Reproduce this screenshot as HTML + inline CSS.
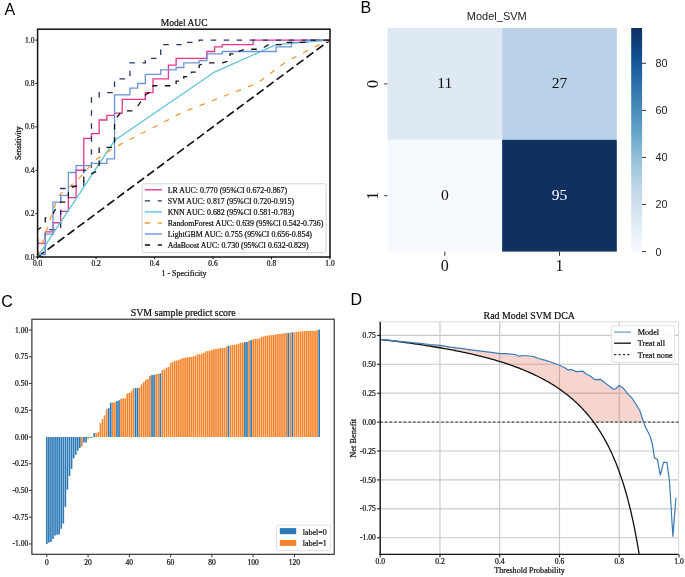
<!DOCTYPE html>
<html><head><meta charset="utf-8"><title>Figure</title>
<style>
html,body{margin:0;padding:0;background:#fff;}
body{width:685px;height:577px;overflow:hidden;font-family:"Liberation Sans", sans-serif;}
svg{display:block;}
text{filter:grayscale(1);}
</style></head>
<body>
<svg width="685" height="577" viewBox="0 0 685 577">
<rect x="0" y="0" width="685" height="577" fill="#fff"/>
<text x="4.6" y="14.7" font-family='"Liberation Sans", sans-serif' font-size="16" text-anchor="start" fill="#000" >A</text>
<text x="184.2" y="26" font-family='"Liberation Serif", serif' font-size="9.5" text-anchor="middle" fill="#111" stroke="#111" stroke-width="0.22" >Model AUC</text>
<clipPath id="clipA"><rect x="37.6" y="29.2" width="292.4" height="227.8"/></clipPath>
<g clip-path="url(#clipA)">
<line x1="37.6" y1="257" x2="330" y2="40.1" stroke="#111" stroke-width="1.65" stroke-dasharray="8.6 3.8"/>
<polyline points="37.6,257 37.6,243.3 45.29,243.3 45.29,231.89 52.99,231.89 52.99,222.75 60.68,222.75 60.68,211.34 68.38,211.34 68.38,197.64 76.07,197.64 76.07,170.24 83.77,170.24 83.77,138.28 91.46,138.28 91.46,133.71 99.16,133.71 99.16,120.01 106.85,120.01 106.85,115.44 114.55,115.44 114.55,113.16 122.24,113.16 122.24,99.46 145.33,99.46 145.33,92.61 153.02,92.61 153.02,78.91 168.41,78.91 168.41,65.21 176.11,65.21 176.11,58.37 206.88,58.37 206.88,51.52 214.58,51.52 214.58,46.95 222.27,46.95 222.27,44.67 253.05,44.67 253.05,40.1 330,40.1" fill="none" stroke="#e8348f" stroke-width="1.3" />
<polyline points="37.6,257 45.29,257 45.29,229.6 60.68,229.6 60.68,188.51 68.38,188.51 68.38,186.22 83.77,186.22 83.77,170.24 91.46,170.24 91.46,97.18 99.16,97.18 99.16,92.61 114.55,92.61 114.55,78.91 129.94,78.91 129.94,62.93 145.33,62.93 145.33,58.37 160.72,58.37 160.72,44.67 183.8,44.67 183.8,42.38 199.19,42.38 199.19,40.1 330,40.1" fill="none" stroke="#27346a" stroke-width="1.3" stroke-dasharray="5.5 7.5"/>
<polyline points="37.6,257 114.55,140.56 214.58,72.06 276.14,44.67 330,40.1" fill="none" stroke="#5fc5d6" stroke-width="1.3" />
<polyline points="37.6,257 58.07,196.27 78.54,178.92 96.08,159.39 115.38,147.03 183.8,111.68 256.9,83.48 286.14,61.79 315.38,46.61 330,40.1" fill="none" stroke="#f59a35" stroke-width="1.3" stroke-dasharray="5.5 7.5"/>
<polyline points="37.6,257 37.6,254.72 45.29,254.72 45.29,234.17 52.99,234.17 52.99,202.2 60.68,202.2 60.68,195.35 68.38,195.35 68.38,172.52 76.07,172.52 76.07,165.67 91.46,165.67 91.46,163.39 106.85,163.39 106.85,158.82 114.55,158.82 114.55,94.9 129.94,94.9 129.94,88.05 137.63,88.05 137.63,83.48 145.33,83.48 145.33,74.35 160.72,74.35 160.72,69.78 176.11,69.78 176.11,67.5 183.8,67.5 183.8,62.93 199.19,62.93 199.19,60.65 206.88,60.65 206.88,53.8 222.27,53.8 222.27,51.52 276.14,51.52 276.14,46.95 291.53,46.95 291.53,42.38 306.92,42.38 306.92,40.1 330,40.1" fill="none" stroke="#6d93d9" stroke-width="1.3" />
<polyline points="37.6,257 37.6,229.6 45.29,225.04 45.29,218.19 52.99,213.62 56.84,206.77 60.68,202.2 68.38,202.2 68.38,188.51 76.07,186.22 83.77,181.66 83.77,177.09 99.16,170.24 99.16,147.41 114.55,147.41 114.55,120.01 122.24,110.88 133.78,110.88 137.63,106.31 145.33,94.9 153.02,90.33 153.02,85.76 176.11,85.76 176.11,81.2 183.8,81.2 183.8,76.63 191.49,76.63 191.49,72.06 199.19,72.06 199.19,65.21 206.88,62.93 222.27,62.93 229.97,60.65 229.97,53.8 237.66,53.8 237.66,51.52 245.36,49.23 260.75,49.23 268.44,44.67 283.83,44.67 283.83,42.38 306.92,42.38 306.92,40.1 330,40.1" fill="none" stroke="#111111" stroke-width="1.3" stroke-dasharray="5.5 7.5"/>
</g>
<rect x="142.2" y="183.8" width="184" height="68.8" fill="#fff" fill-opacity="0.85" stroke="#d6d6d6" stroke-width="1" rx="2"/>
<line x1="144.8" y1="189.8" x2="161.9" y2="189.8" stroke="#e8348f" stroke-width="1.4" />
<text x="167.7" y="193" font-family='"Liberation Serif", serif' font-size="7.87" text-anchor="start" fill="#111" stroke="#111" stroke-width="0.22" >LR AUC: 0.770 (95%CI 0.672-0.867)</text>
<line x1="144.8" y1="200.85" x2="161.9" y2="200.85" stroke="#27346a" stroke-width="1.4" stroke-dasharray="5.3 7.7"/>
<text x="167.7" y="204.05" font-family='"Liberation Serif", serif' font-size="7.87" text-anchor="start" fill="#111" stroke="#111" stroke-width="0.22" >SVM AUC: 0.817 (95%CI 0.720-0.915)</text>
<line x1="144.8" y1="211.9" x2="161.9" y2="211.9" stroke="#5fc5d6" stroke-width="1.4" />
<text x="167.7" y="215.1" font-family='"Liberation Serif", serif' font-size="7.87" text-anchor="start" fill="#111" stroke="#111" stroke-width="0.22" >KNN AUC: 0.682 (95%CI 0.581-0.783)</text>
<line x1="144.8" y1="222.95" x2="161.9" y2="222.95" stroke="#f59a35" stroke-width="1.4" stroke-dasharray="5.3 7.7"/>
<text x="167.7" y="226.15" font-family='"Liberation Serif", serif' font-size="7.87" text-anchor="start" fill="#111" stroke="#111" stroke-width="0.22" >RandomForest AUC: 0.639 (95%CI 0.542-0.736)</text>
<line x1="144.8" y1="234" x2="161.9" y2="234" stroke="#6d93d9" stroke-width="1.4" />
<text x="167.7" y="237.2" font-family='"Liberation Serif", serif' font-size="7.87" text-anchor="start" fill="#111" stroke="#111" stroke-width="0.22" >LightGBM AUC: 0.755 (95%CI 0.656-0.854)</text>
<line x1="144.8" y1="245.05" x2="161.9" y2="245.05" stroke="#111111" stroke-width="1.4" stroke-dasharray="5.3 7.7"/>
<text x="167.7" y="248.25" font-family='"Liberation Serif", serif' font-size="7.87" text-anchor="start" fill="#111" stroke="#111" stroke-width="0.22" >AdaBoost AUC: 0.730 (95%CI 0.632-0.829)</text>
<rect x="37.6" y="29.2" width="292.4" height="227.8" fill="none" stroke="#111" stroke-width="1.5"/>
<line x1="37.6" y1="257" x2="37.6" y2="259.2" stroke="#111" stroke-width="1" />
<line x1="35.4" y1="257" x2="37.6" y2="257" stroke="#111" stroke-width="1" />
<text x="37.6" y="266.2" font-family='"Liberation Serif", serif' font-size="7.5" text-anchor="middle" fill="#111" stroke="#111" stroke-width="0.22" >0.0</text>
<text x="34.4" y="259.6" font-family='"Liberation Serif", serif' font-size="7.5" text-anchor="end" fill="#111" stroke="#111" stroke-width="0.22" >0.0</text>
<line x1="96.08" y1="257" x2="96.08" y2="259.2" stroke="#111" stroke-width="1" />
<line x1="35.4" y1="213.62" x2="37.6" y2="213.62" stroke="#111" stroke-width="1" />
<text x="96.08" y="266.2" font-family='"Liberation Serif", serif' font-size="7.5" text-anchor="middle" fill="#111" stroke="#111" stroke-width="0.22" >0.2</text>
<text x="34.4" y="216.22" font-family='"Liberation Serif", serif' font-size="7.5" text-anchor="end" fill="#111" stroke="#111" stroke-width="0.22" >0.2</text>
<line x1="154.56" y1="257" x2="154.56" y2="259.2" stroke="#111" stroke-width="1" />
<line x1="35.4" y1="170.24" x2="37.6" y2="170.24" stroke="#111" stroke-width="1" />
<text x="154.56" y="266.2" font-family='"Liberation Serif", serif' font-size="7.5" text-anchor="middle" fill="#111" stroke="#111" stroke-width="0.22" >0.4</text>
<text x="34.4" y="172.84" font-family='"Liberation Serif", serif' font-size="7.5" text-anchor="end" fill="#111" stroke="#111" stroke-width="0.22" >0.4</text>
<line x1="213.04" y1="257" x2="213.04" y2="259.2" stroke="#111" stroke-width="1" />
<line x1="35.4" y1="126.86" x2="37.6" y2="126.86" stroke="#111" stroke-width="1" />
<text x="213.04" y="266.2" font-family='"Liberation Serif", serif' font-size="7.5" text-anchor="middle" fill="#111" stroke="#111" stroke-width="0.22" >0.6</text>
<text x="34.4" y="129.46" font-family='"Liberation Serif", serif' font-size="7.5" text-anchor="end" fill="#111" stroke="#111" stroke-width="0.22" >0.6</text>
<line x1="271.52" y1="257" x2="271.52" y2="259.2" stroke="#111" stroke-width="1" />
<line x1="35.4" y1="83.48" x2="37.6" y2="83.48" stroke="#111" stroke-width="1" />
<text x="271.52" y="266.2" font-family='"Liberation Serif", serif' font-size="7.5" text-anchor="middle" fill="#111" stroke="#111" stroke-width="0.22" >0.8</text>
<text x="34.4" y="86.08" font-family='"Liberation Serif", serif' font-size="7.5" text-anchor="end" fill="#111" stroke="#111" stroke-width="0.22" >0.8</text>
<line x1="330" y1="257" x2="330" y2="259.2" stroke="#111" stroke-width="1" />
<line x1="35.4" y1="40.1" x2="37.6" y2="40.1" stroke="#111" stroke-width="1" />
<text x="330" y="266.2" font-family='"Liberation Serif", serif' font-size="7.5" text-anchor="middle" fill="#111" stroke="#111" stroke-width="0.22" >1.0</text>
<text x="34.4" y="42.7" font-family='"Liberation Serif", serif' font-size="7.5" text-anchor="end" fill="#111" stroke="#111" stroke-width="0.22" >1.0</text>
<text x="184" y="275.8" font-family='"Liberation Serif", serif' font-size="7.95" text-anchor="middle" fill="#111" stroke="#111" stroke-width="0.22" >1 - Specificity</text>
<text x="0" y="0" font-family='"Liberation Serif", serif' font-size="7.9" text-anchor="middle" fill="#111" stroke="#111" stroke-width="0.22" transform="translate(20.7,143.2) rotate(-90)">Sensitivity</text>
<text x="360.6" y="13.1" font-family='"Liberation Sans", sans-serif' font-size="16" text-anchor="start" fill="#000" >B</text>
<text x="496.8" y="20.2" font-family='"Liberation Sans", sans-serif' font-size="11" text-anchor="middle" fill="#222" >Model_SVM</text>
<rect x="387.5" y="28" width="114.65" height="111.8" fill="#dfe9f4" />
<rect x="502.15" y="28" width="114.65" height="111.8" fill="#b9d2e7" />
<rect x="387.5" y="139.8" width="114.65" height="111.8" fill="#f6faff" />
<rect x="502.15" y="139.8" width="114.65" height="111.8" fill="#10305f" />
<text x="444.82" y="88.1" font-family='"Liberation Serif", serif' font-size="15.6" text-anchor="middle" fill="#111" >11</text>
<text x="559.47" y="88.1" font-family='"Liberation Serif", serif' font-size="15.6" text-anchor="middle" fill="#111" >27</text>
<text x="444.82" y="199.9" font-family='"Liberation Serif", serif' font-size="15.6" text-anchor="middle" fill="#111" >0</text>
<text x="559.47" y="199.9" font-family='"Liberation Serif", serif' font-size="15.6" text-anchor="middle" fill="#fff" >95</text>
<line x1="384.2" y1="83.9" x2="387.5" y2="83.9" stroke="#333" stroke-width="1" />
<text x="0" y="0" font-family='"Liberation Serif", serif' font-size="16" text-anchor="middle" fill="#111" transform="translate(377.6,83.9) rotate(-90)">0</text>
<line x1="384.2" y1="195.7" x2="387.5" y2="195.7" stroke="#333" stroke-width="1" />
<text x="0" y="0" font-family='"Liberation Serif", serif' font-size="16" text-anchor="middle" fill="#111" transform="translate(377.6,195.7) rotate(-90)">1</text>
<line x1="444.82" y1="251.6" x2="444.82" y2="255.8" stroke="#333" stroke-width="1" />
<text x="444.82" y="270.7" font-family='"Liberation Serif", serif' font-size="16" text-anchor="middle" fill="#111" >0</text>
<line x1="559.47" y1="251.6" x2="559.47" y2="255.8" stroke="#333" stroke-width="1" />
<text x="559.47" y="270.7" font-family='"Liberation Serif", serif' font-size="16" text-anchor="middle" fill="#111" >1</text>
<linearGradient id="blues" x1="0" y1="1" x2="0" y2="0"><stop offset="0" stop-color="#f7fbff"/><stop offset="0.125" stop-color="#dfebf5"/><stop offset="0.25" stop-color="#c8daec"/><stop offset="0.375" stop-color="#a3c9dc"/><stop offset="0.5" stop-color="#72acce"/><stop offset="0.625" stop-color="#4b8fbc"/><stop offset="0.75" stop-color="#2a6fa9"/><stop offset="0.875" stop-color="#104f90"/><stop offset="1" stop-color="#0d2f62"/></linearGradient>
<rect x="631.2" y="28" width="10.9" height="223.6" fill="url(#blues)" />
<line x1="642.1" y1="251.6" x2="646" y2="251.6" stroke="#333" stroke-width="1" />
<text x="655.6" y="255.5" font-family='"Liberation Sans", sans-serif' font-size="10.8" text-anchor="start" fill="#222" >0</text>
<line x1="642.1" y1="204.53" x2="646" y2="204.53" stroke="#333" stroke-width="1" />
<text x="655.6" y="208.43" font-family='"Liberation Sans", sans-serif' font-size="10.8" text-anchor="start" fill="#222" >20</text>
<line x1="642.1" y1="157.45" x2="646" y2="157.45" stroke="#333" stroke-width="1" />
<text x="655.6" y="161.35" font-family='"Liberation Sans", sans-serif' font-size="10.8" text-anchor="start" fill="#222" >40</text>
<line x1="642.1" y1="110.38" x2="646" y2="110.38" stroke="#333" stroke-width="1" />
<text x="655.6" y="114.28" font-family='"Liberation Sans", sans-serif' font-size="10.8" text-anchor="start" fill="#222" >60</text>
<line x1="642.1" y1="63.31" x2="646" y2="63.31" stroke="#333" stroke-width="1" />
<text x="655.6" y="67.21" font-family='"Liberation Sans", sans-serif' font-size="10.8" text-anchor="start" fill="#222" >80</text>
<text x="1.2" y="306.9" font-family='"Liberation Sans", sans-serif' font-size="16" text-anchor="start" fill="#000" >C</text>
<text x="183.2" y="316.1" font-family='"Liberation Serif", serif' font-size="9.9" text-anchor="middle" fill="#111" stroke="#111" stroke-width="0.22" >SVM sample predict score</text>
<rect x="45.97" y="437" width="1.65" height="107.1" fill="#2b79b6" />
<rect x="48.04" y="437" width="1.65" height="105.7" fill="#2b79b6" />
<rect x="50.1" y="437" width="1.65" height="104.9" fill="#2b79b6" />
<rect x="52.17" y="437" width="1.65" height="102" fill="#2b79b6" />
<rect x="54.23" y="437" width="1.65" height="98.5" fill="#2b79b6" />
<rect x="56.29" y="437" width="1.65" height="97.8" fill="#2b79b6" />
<rect x="58.36" y="437" width="1.65" height="97.4" fill="#2b79b6" />
<rect x="60.42" y="437" width="1.65" height="91.8" fill="#2b79b6" />
<rect x="62.48" y="437" width="1.65" height="86.6" fill="#2b79b6" />
<rect x="64.55" y="437" width="1.65" height="69.9" fill="#2b79b6" />
<rect x="66.61" y="437" width="1.65" height="52.6" fill="#2b79b6" />
<rect x="68.67" y="437" width="1.65" height="39.1" fill="#2b79b6" />
<rect x="70.74" y="437" width="1.65" height="31.8" fill="#2b79b6" />
<rect x="72.8" y="437" width="1.65" height="21.4" fill="#2b79b6" />
<rect x="74.86" y="437" width="1.65" height="17.9" fill="#2b79b6" />
<rect x="76.93" y="437" width="1.65" height="13.7" fill="#2b79b6" />
<rect x="78.99" y="437" width="1.65" height="11" fill="#2b79b6" />
<rect x="81.05" y="437" width="1.65" height="9.5" fill="#f5842b" />
<rect x="83.12" y="437" width="1.65" height="5.5" fill="#2b79b6" />
<rect x="85.18" y="437" width="1.65" height="5.5" fill="#2b79b6" />
<rect x="87.24" y="437" width="1.65" height="1.8" fill="#f5842b" />
<rect x="89.31" y="437" width="1.65" height="0.7" fill="#2b79b6" />
<rect x="91.37" y="437" width="1.65" height="0.7" fill="#2b79b6" />
<rect x="93.44" y="433.1" width="1.65" height="3.9" fill="#2b79b6" />
<rect x="95.5" y="433.1" width="1.65" height="3.9" fill="#f5842b" />
<rect x="97.56" y="431.9" width="1.65" height="5.1" fill="#f5842b" />
<rect x="99.63" y="423.1" width="1.65" height="13.9" fill="#f5842b" />
<rect x="101.69" y="419.1" width="1.65" height="17.9" fill="#f5842b" />
<rect x="103.75" y="415.4" width="1.65" height="21.6" fill="#f5842b" />
<rect x="105.82" y="409.4" width="1.65" height="27.6" fill="#f5842b" />
<rect x="107.88" y="408.1" width="1.65" height="28.9" fill="#2b79b6" />
<rect x="109.94" y="402.8" width="1.65" height="34.2" fill="#2b79b6" />
<rect x="112.01" y="402.4" width="1.65" height="34.6" fill="#f5842b" />
<rect x="114.07" y="402.3" width="1.65" height="34.7" fill="#f5842b" />
<rect x="116.13" y="401" width="1.65" height="36" fill="#2b79b6" />
<rect x="118.2" y="400.3" width="1.65" height="36.7" fill="#2b79b6" />
<rect x="120.26" y="398.8" width="1.65" height="38.2" fill="#f5842b" />
<rect x="122.32" y="398.4" width="1.65" height="38.6" fill="#f5842b" />
<rect x="124.39" y="398.3" width="1.65" height="38.7" fill="#f5842b" />
<rect x="126.45" y="393.7" width="1.65" height="43.3" fill="#f5842b" />
<rect x="128.51" y="393" width="1.65" height="44" fill="#f5842b" />
<rect x="130.58" y="391.2" width="1.65" height="45.8" fill="#f5842b" />
<rect x="132.64" y="388.4" width="1.65" height="48.6" fill="#f5842b" />
<rect x="134.71" y="388.1" width="1.65" height="48.9" fill="#2b79b6" />
<rect x="136.77" y="388" width="1.65" height="49" fill="#2b79b6" />
<rect x="138.83" y="387.3" width="1.65" height="49.7" fill="#f5842b" />
<rect x="140.9" y="384.3" width="1.65" height="52.7" fill="#f5842b" />
<rect x="142.96" y="382.2" width="1.65" height="54.8" fill="#f5842b" />
<rect x="145.02" y="379.8" width="1.65" height="57.2" fill="#f5842b" />
<rect x="147.09" y="379.1" width="1.65" height="57.9" fill="#f5842b" />
<rect x="149.15" y="376" width="1.65" height="61" fill="#f5842b" />
<rect x="151.21" y="374.9" width="1.65" height="62.1" fill="#2b79b6" />
<rect x="153.28" y="374.9" width="1.65" height="62.1" fill="#2b79b6" />
<rect x="155.34" y="374.1" width="1.65" height="62.9" fill="#f5842b" />
<rect x="157.4" y="374" width="1.65" height="63" fill="#f5842b" />
<rect x="159.47" y="373.3" width="1.65" height="63.7" fill="#2b79b6" />
<rect x="161.53" y="370.1" width="1.65" height="66.9" fill="#f5842b" />
<rect x="163.59" y="369.4" width="1.65" height="67.6" fill="#f5842b" />
<rect x="165.66" y="367.7" width="1.65" height="69.3" fill="#f5842b" />
<rect x="167.72" y="367" width="1.65" height="70" fill="#f5842b" />
<rect x="169.78" y="362.9" width="1.65" height="74.1" fill="#f5842b" />
<rect x="171.85" y="362.2" width="1.65" height="74.8" fill="#f5842b" />
<rect x="173.91" y="360.8" width="1.65" height="76.2" fill="#f5842b" />
<rect x="175.98" y="360.5" width="1.65" height="76.5" fill="#f5842b" />
<rect x="178.04" y="360.1" width="1.65" height="76.9" fill="#f5842b" />
<rect x="180.1" y="358.9" width="1.65" height="78.1" fill="#f5842b" />
<rect x="182.17" y="358" width="1.65" height="79" fill="#f5842b" />
<rect x="184.23" y="357.7" width="1.65" height="79.3" fill="#f5842b" />
<rect x="186.29" y="357.3" width="1.65" height="79.7" fill="#f5842b" />
<rect x="188.36" y="357.2" width="1.65" height="79.8" fill="#f5842b" />
<rect x="190.42" y="357" width="1.65" height="80" fill="#f5842b" />
<rect x="192.48" y="356.3" width="1.65" height="80.7" fill="#f5842b" />
<rect x="194.55" y="355.9" width="1.65" height="81.1" fill="#f5842b" />
<rect x="196.61" y="354.3" width="1.65" height="82.7" fill="#f5842b" />
<rect x="198.67" y="354.3" width="1.65" height="82.7" fill="#f5842b" />
<rect x="200.74" y="353.8" width="1.65" height="83.2" fill="#f5842b" />
<rect x="202.8" y="352.9" width="1.65" height="84.1" fill="#f5842b" />
<rect x="204.86" y="351.5" width="1.65" height="85.5" fill="#f5842b" />
<rect x="206.93" y="351.1" width="1.65" height="85.9" fill="#f5842b" />
<rect x="208.99" y="350.5" width="1.65" height="86.5" fill="#f5842b" />
<rect x="211.05" y="350.1" width="1.65" height="86.9" fill="#f5842b" />
<rect x="213.12" y="349.1" width="1.65" height="87.9" fill="#f5842b" />
<rect x="215.18" y="348.8" width="1.65" height="88.2" fill="#f5842b" />
<rect x="217.25" y="348.6" width="1.65" height="88.4" fill="#f5842b" />
<rect x="219.31" y="348.1" width="1.65" height="88.9" fill="#f5842b" />
<rect x="221.37" y="348" width="1.65" height="89" fill="#f5842b" />
<rect x="223.44" y="348" width="1.65" height="89" fill="#f5842b" />
<rect x="225.5" y="346.8" width="1.65" height="90.2" fill="#f5842b" />
<rect x="227.56" y="345.8" width="1.65" height="91.2" fill="#2b79b6" />
<rect x="229.63" y="345.4" width="1.65" height="91.6" fill="#f5842b" />
<rect x="231.69" y="345" width="1.65" height="92" fill="#f5842b" />
<rect x="233.75" y="344.7" width="1.65" height="92.3" fill="#f5842b" />
<rect x="235.82" y="344.3" width="1.65" height="92.7" fill="#f5842b" />
<rect x="237.88" y="343.6" width="1.65" height="93.4" fill="#f5842b" />
<rect x="239.94" y="342.9" width="1.65" height="94.1" fill="#f5842b" />
<rect x="242.01" y="342.5" width="1.65" height="94.5" fill="#f5842b" />
<rect x="244.07" y="342.2" width="1.65" height="94.8" fill="#2b79b6" />
<rect x="246.13" y="341.9" width="1.65" height="95.1" fill="#2b79b6" />
<rect x="248.2" y="340.8" width="1.65" height="96.2" fill="#f5842b" />
<rect x="250.26" y="340.1" width="1.65" height="96.9" fill="#2b79b6" />
<rect x="252.32" y="339.2" width="1.65" height="97.8" fill="#f5842b" />
<rect x="254.39" y="339" width="1.65" height="98" fill="#f5842b" />
<rect x="256.45" y="338.8" width="1.65" height="98.2" fill="#f5842b" />
<rect x="258.52" y="338.6" width="1.65" height="98.4" fill="#f5842b" />
<rect x="260.58" y="336.8" width="1.65" height="100.2" fill="#f5842b" />
<rect x="262.64" y="336.5" width="1.65" height="100.5" fill="#f5842b" />
<rect x="264.71" y="335.8" width="1.65" height="101.2" fill="#f5842b" />
<rect x="266.77" y="335.5" width="1.65" height="101.5" fill="#f5842b" />
<rect x="268.83" y="335.4" width="1.65" height="101.6" fill="#f5842b" />
<rect x="270.9" y="335.1" width="1.65" height="101.9" fill="#f5842b" />
<rect x="272.96" y="334.8" width="1.65" height="102.2" fill="#f5842b" />
<rect x="275.02" y="334.4" width="1.65" height="102.6" fill="#f5842b" />
<rect x="277.09" y="334.1" width="1.65" height="102.9" fill="#f5842b" />
<rect x="279.15" y="334" width="1.65" height="103" fill="#f5842b" />
<rect x="281.21" y="333.7" width="1.65" height="103.3" fill="#f5842b" />
<rect x="283.28" y="333.3" width="1.65" height="103.7" fill="#f5842b" />
<rect x="285.34" y="333.2" width="1.65" height="103.8" fill="#f5842b" />
<rect x="287.4" y="333" width="1.65" height="104" fill="#2b79b6" />
<rect x="289.47" y="332.7" width="1.65" height="104.3" fill="#f5842b" />
<rect x="291.53" y="332.3" width="1.65" height="104.7" fill="#2b79b6" />
<rect x="293.59" y="332.3" width="1.65" height="104.7" fill="#f5842b" />
<rect x="295.66" y="331.9" width="1.65" height="105.1" fill="#f5842b" />
<rect x="297.72" y="331.6" width="1.65" height="105.4" fill="#f5842b" />
<rect x="299.79" y="331.4" width="1.65" height="105.6" fill="#f5842b" />
<rect x="301.85" y="331.2" width="1.65" height="105.8" fill="#f5842b" />
<rect x="303.91" y="331.1" width="1.65" height="105.9" fill="#f5842b" />
<rect x="305.98" y="330.9" width="1.65" height="106.1" fill="#f5842b" />
<rect x="308.04" y="330.9" width="1.65" height="106.1" fill="#f5842b" />
<rect x="310.1" y="330.8" width="1.65" height="106.2" fill="#f5842b" />
<rect x="312.17" y="330.8" width="1.65" height="106.2" fill="#f5842b" />
<rect x="314.23" y="330.7" width="1.65" height="106.3" fill="#f5842b" />
<rect x="316.29" y="330.3" width="1.65" height="106.7" fill="#f5842b" />
<rect x="318.36" y="329.6" width="1.65" height="107.4" fill="#2b79b6" />
<rect x="31.9" y="319.2" width="302.3" height="235.1" fill="none" stroke="#222" stroke-width="1.1"/>
<line x1="28.9" y1="330.05" x2="31.9" y2="330.05" stroke="#222" stroke-width="0.9" />
<text x="28.2" y="332.55" font-family='"Liberation Serif", serif' font-size="7.5" text-anchor="end" fill="#111" stroke="#111" stroke-width="0.22" >1.00</text>
<line x1="28.9" y1="356.79" x2="31.9" y2="356.79" stroke="#222" stroke-width="0.9" />
<text x="28.2" y="359.29" font-family='"Liberation Serif", serif' font-size="7.5" text-anchor="end" fill="#111" stroke="#111" stroke-width="0.22" >0.75</text>
<line x1="28.9" y1="383.52" x2="31.9" y2="383.52" stroke="#222" stroke-width="0.9" />
<text x="28.2" y="386.02" font-family='"Liberation Serif", serif' font-size="7.5" text-anchor="end" fill="#111" stroke="#111" stroke-width="0.22" >0.50</text>
<line x1="28.9" y1="410.26" x2="31.9" y2="410.26" stroke="#222" stroke-width="0.9" />
<text x="28.2" y="412.76" font-family='"Liberation Serif", serif' font-size="7.5" text-anchor="end" fill="#111" stroke="#111" stroke-width="0.22" >0.25</text>
<line x1="28.9" y1="437" x2="31.9" y2="437" stroke="#222" stroke-width="0.9" />
<text x="28.2" y="439.5" font-family='"Liberation Serif", serif' font-size="7.5" text-anchor="end" fill="#111" stroke="#111" stroke-width="0.22" >0.00</text>
<line x1="28.9" y1="463.74" x2="31.9" y2="463.74" stroke="#222" stroke-width="0.9" />
<text x="28.2" y="466.24" font-family='"Liberation Serif", serif' font-size="7.5" text-anchor="end" fill="#111" stroke="#111" stroke-width="0.22" >-0.25</text>
<line x1="28.9" y1="490.48" x2="31.9" y2="490.48" stroke="#222" stroke-width="0.9" />
<text x="28.2" y="492.98" font-family='"Liberation Serif", serif' font-size="7.5" text-anchor="end" fill="#111" stroke="#111" stroke-width="0.22" >-0.50</text>
<line x1="28.9" y1="517.21" x2="31.9" y2="517.21" stroke="#222" stroke-width="0.9" />
<text x="28.2" y="519.71" font-family='"Liberation Serif", serif' font-size="7.5" text-anchor="end" fill="#111" stroke="#111" stroke-width="0.22" >-0.75</text>
<line x1="28.9" y1="543.95" x2="31.9" y2="543.95" stroke="#222" stroke-width="0.9" />
<text x="28.2" y="546.45" font-family='"Liberation Serif", serif' font-size="7.5" text-anchor="end" fill="#111" stroke="#111" stroke-width="0.22" >-1.00</text>
<line x1="46.8" y1="554.3" x2="46.8" y2="557.3" stroke="#222" stroke-width="0.9" />
<text x="46.8" y="564.5" font-family='"Liberation Serif", serif' font-size="7.5" text-anchor="middle" fill="#111" stroke="#111" stroke-width="0.22" >0</text>
<line x1="88.07" y1="554.3" x2="88.07" y2="557.3" stroke="#222" stroke-width="0.9" />
<text x="88.07" y="564.5" font-family='"Liberation Serif", serif' font-size="7.5" text-anchor="middle" fill="#111" stroke="#111" stroke-width="0.22" >20</text>
<line x1="129.34" y1="554.3" x2="129.34" y2="557.3" stroke="#222" stroke-width="0.9" />
<text x="129.34" y="564.5" font-family='"Liberation Serif", serif' font-size="7.5" text-anchor="middle" fill="#111" stroke="#111" stroke-width="0.22" >40</text>
<line x1="170.61" y1="554.3" x2="170.61" y2="557.3" stroke="#222" stroke-width="0.9" />
<text x="170.61" y="564.5" font-family='"Liberation Serif", serif' font-size="7.5" text-anchor="middle" fill="#111" stroke="#111" stroke-width="0.22" >60</text>
<line x1="211.88" y1="554.3" x2="211.88" y2="557.3" stroke="#222" stroke-width="0.9" />
<text x="211.88" y="564.5" font-family='"Liberation Serif", serif' font-size="7.5" text-anchor="middle" fill="#111" stroke="#111" stroke-width="0.22" >80</text>
<line x1="253.15" y1="554.3" x2="253.15" y2="557.3" stroke="#222" stroke-width="0.9" />
<text x="253.15" y="564.5" font-family='"Liberation Serif", serif' font-size="7.5" text-anchor="middle" fill="#111" stroke="#111" stroke-width="0.22" >100</text>
<line x1="294.42" y1="554.3" x2="294.42" y2="557.3" stroke="#222" stroke-width="0.9" />
<text x="294.42" y="564.5" font-family='"Liberation Serif", serif' font-size="7.5" text-anchor="middle" fill="#111" stroke="#111" stroke-width="0.22" >120</text>
<rect x="276.5" y="525.2" width="54.2" height="25.4" fill="#fff" fill-opacity="0.9" stroke="#dcdcdc" stroke-width="0.9" rx="2"/>
<rect x="279.8" y="528.1" width="16.4" height="6.1" fill="#2b79b6" />
<rect x="279.8" y="540" width="16.4" height="5.9" fill="#f5842b" />
<text x="302.8" y="534.7" font-family='"Liberation Serif", serif' font-size="8.0" text-anchor="start" fill="#111" stroke="#111" stroke-width="0.22" >label=0</text>
<text x="302.8" y="545.7" font-family='"Liberation Serif", serif' font-size="8.0" text-anchor="start" fill="#111" stroke="#111" stroke-width="0.22" >label=1</text>
<text x="350.4" y="305.1" font-family='"Liberation Sans", sans-serif' font-size="16" text-anchor="start" fill="#000" >D</text>
<text x="529.3" y="318.9" font-family='"Liberation Serif", serif' font-size="9.9" text-anchor="middle" fill="#111" stroke="#111" stroke-width="0.22" >Rad Model SVM DCA</text>
<line x1="439.96" y1="321.7" x2="439.96" y2="554.4" stroke="#c9c9c9" stroke-width="1.2" />
<line x1="499.72" y1="321.7" x2="499.72" y2="554.4" stroke="#c9c9c9" stroke-width="1.2" />
<line x1="559.48" y1="321.7" x2="559.48" y2="554.4" stroke="#c9c9c9" stroke-width="1.2" />
<line x1="619.24" y1="321.7" x2="619.24" y2="554.4" stroke="#c9c9c9" stroke-width="1.2" />
<line x1="380.2" y1="335.36" x2="678.6" y2="335.36" stroke="#c9c9c9" stroke-width="1.2" />
<line x1="380.2" y1="364.27" x2="678.6" y2="364.27" stroke="#c9c9c9" stroke-width="1.2" />
<line x1="380.2" y1="393.19" x2="678.6" y2="393.19" stroke="#c9c9c9" stroke-width="1.2" />
<line x1="380.2" y1="422.1" x2="678.6" y2="422.1" stroke="#c9c9c9" stroke-width="1.2" />
<line x1="380.2" y1="451.02" x2="678.6" y2="451.02" stroke="#c9c9c9" stroke-width="1.2" />
<line x1="380.2" y1="479.93" x2="678.6" y2="479.93" stroke="#c9c9c9" stroke-width="1.2" />
<line x1="380.2" y1="508.85" x2="678.6" y2="508.85" stroke="#c9c9c9" stroke-width="1.2" />
<line x1="380.2" y1="537.76" x2="678.6" y2="537.76" stroke="#c9c9c9" stroke-width="1.2" />
<line x1="380.2" y1="321.7" x2="678.6" y2="321.7" stroke="#dadada" stroke-width="1.1" />
<line x1="678.6" y1="321.7" x2="678.6" y2="554.4" stroke="#dadada" stroke-width="1.1" />
<path d="M380.2,339.4 L380.7,339.45 L381.2,339.5 L381.7,339.54 L382.2,339.59 L382.7,339.64 L383.2,339.69 L383.7,339.74 L384.2,339.78 L384.7,339.83 L385.2,339.88 L385.7,339.93 L386.2,339.98 L386.7,340.02 L387.2,340.07 L387.7,340.12 L388.2,340.17 L388.7,340.22 L389.2,340.26 L389.7,340.31 L390.2,340.36 L390.7,340.41 L391.2,340.46 L391.7,340.5 L392.2,340.55 L392.7,340.6 L393.2,340.65 L393.7,340.7 L394.2,340.74 L394.7,340.79 L395.2,340.84 L395.7,340.89 L396.2,340.94 L396.7,340.98 L397.2,341.03 L397.7,341.08 L398.2,341.13 L398.7,341.18 L399.2,341.22 L399.7,341.27 L400.2,341.32 L400.7,341.37 L401.2,341.42 L401.7,341.47 L402.2,341.52 L402.7,341.57 L403.2,341.62 L403.7,341.67 L404.2,341.72 L404.7,341.77 L405.2,341.82 L405.7,341.87 L406.2,341.92 L406.7,341.97 L407.2,342.02 L407.7,342.07 L408.2,342.12 L408.7,342.17 L409.2,342.22 L409.7,342.27 L410.2,342.32 L410.7,342.37 L411.2,342.42 L411.7,342.47 L412.2,342.52 L412.7,342.57 L413.2,342.62 L413.7,342.67 L414.2,342.72 L414.7,342.77 L415.2,342.82 L415.7,342.87 L416.2,342.92 L416.7,342.97 L417.2,343.02 L417.7,343.07 L418.2,343.12 L418.7,343.17 L419.2,343.22 L419.7,343.27 L420.2,343.32 L420.7,343.38 L421.2,343.44 L421.7,343.5 L422.2,343.56 L422.7,343.62 L423.2,343.68 L423.7,343.74 L424.2,343.8 L424.7,343.86 L425.2,343.92 L425.7,343.98 L426.2,344.04 L426.7,344.1 L427.2,344.16 L427.7,344.22 L428.2,344.28 L428.7,344.34 L429.2,344.4 L429.7,344.46 L430.2,344.52 L430.7,344.56 L431.2,344.61 L431.7,344.65 L432.2,344.69 L432.7,344.74 L433.2,344.78 L433.7,344.83 L434.2,344.87 L434.7,344.91 L435.2,344.96 L435.7,345 L436.2,345.05 L436.7,345.09 L437.2,345.14 L437.7,345.18 L438.2,345.22 L438.7,345.27 L439.2,345.31 L439.7,345.36 L440.2,345.4 L440.7,345.48 L441.2,345.57 L441.7,345.65 L442.2,345.73 L442.7,345.82 L443.2,345.9 L443.7,345.98 L444.2,346.07 L444.7,346.15 L445.2,346.23 L445.7,346.32 L446.2,346.4 L446.7,346.48 L447.2,346.57 L447.7,346.65 L448.2,346.73 L448.7,346.82 L449.2,346.9 L449.7,346.98 L450.2,347.07 L450.7,347.13 L451.2,347.19 L451.7,347.25 L452.2,347.31 L452.7,347.37 L453.2,347.43 L453.7,347.48 L454.2,347.54 L454.7,347.6 L455.2,347.66 L455.7,347.72 L456.2,347.78 L456.7,347.83 L457.2,347.89 L457.7,347.95 L458.2,348.01 L458.7,348.07 L459.2,348.13 L459.7,348.18 L460.2,348.24 L460.7,348.3 L461.2,348.37 L461.7,348.45 L462.2,348.52 L462.7,348.59 L463.2,348.67 L463.7,348.74 L464.2,348.81 L464.7,348.89 L465.2,348.96 L465.7,349.04 L466.2,349.11 L466.7,349.18 L467.2,349.26 L467.7,349.33 L468.2,349.4 L468.7,349.48 L469.2,349.55 L469.7,349.62 L470.2,349.7 L470.7,349.77 L471.2,349.84 L471.7,349.9 L472.2,349.97 L472.7,350.03 L473.2,350.09 L473.7,350.16 L474.2,350.22 L474.7,350.28 L475.2,350.35 L475.7,350.41 L476.2,350.48 L476.7,350.54 L477.2,350.6 L477.7,350.67 L478.2,350.73 L478.7,350.79 L479.2,350.86 L479.7,350.92 L480.2,350.99 L480.7,351.05 L481.2,351.11 L481.7,351.18 L482.2,351.24 L482.7,351.3 L483.2,351.37 L483.7,351.43 L484.2,351.5 L484.7,351.56 L485.2,351.62 L485.7,351.69 L486.2,351.75 L486.7,351.81 L487.2,351.88 L487.7,351.94 L488.2,352 L488.7,352.07 L489.2,352.13 L489.7,352.2 L490.2,352.26 L490.7,352.32 L491.2,352.39 L491.7,352.46 L492.2,352.52 L492.7,352.59 L493.2,352.66 L493.7,352.73 L494.2,352.8 L494.7,352.87 L495.2,352.94 L495.7,353.01 L496.2,353.08 L496.7,353.14 L497.2,353.21 L497.7,353.28 L498.2,353.35 L498.7,353.42 L499.2,353.49 L499.7,353.56 L500.2,353.6 L500.7,353.6 L501.2,353.6 L501.7,353.6 L502.2,353.6 L502.7,353.6 L503.2,353.6 L503.7,353.6 L504.2,353.6 L504.7,353.6 L505.2,353.6 L505.7,353.6 L506.2,353.6 L506.7,353.64 L507.2,353.69 L507.7,353.74 L508.2,353.8 L508.7,353.85 L509.2,353.9 L509.7,353.95 L510.2,354 L510.7,354.06 L511.2,354.11 L511.7,354.16 L512.2,354.21 L512.7,354.26 L513.2,354.31 L513.7,354.37 L514.2,354.42 L514.7,354.47 L515.2,354.58 L515.7,354.79 L516.2,354.99 L516.7,355.2 L517.2,355.4 L517.7,355.6 L518.2,355.81 L518.7,356.01 L519.2,356.22 L519.7,356.22 L520.2,356.08 L520.7,355.94 L521.2,355.8 L521.7,355.67 L522.2,355.53 L522.7,355.53 L523.2,355.56 L523.7,355.6 L524.2,355.63 L524.7,355.66 L525.2,355.7 L525.7,355.73 L526.2,355.77 L526.7,355.8 L527.2,355.84 L527.7,355.87 L528.2,355.9 L528.7,355.94 L529.2,355.97 L529.7,356.02 L530.2,356.1 L530.7,356.18 L531.2,356.25 L531.7,356.33 L532.2,356.41 L532.7,356.49 L533.2,356.57 L533.7,356.65 L534.2,356.78 L534.7,356.99 L535.2,357.19 L535.7,357.4 L536.2,357.6 L536.7,357.8 L537.2,358.01 L537.7,358.21 L538.2,358.42 L538.7,358.58 L539.2,358.71 L539.7,358.84 L540.2,358.97 L540.7,359.1 L541.2,359.23 L541.7,359.36 L542.2,359.49 L542.7,359.62 L543.2,359.75 L543.7,359.88 L544.2,360.01 L544.7,360.14 L545.2,360.27 L545.7,360.4 L546.2,360.56 L546.7,360.73 L547.2,360.89 L547.7,361.06 L548.2,361.22 L548.7,361.39 L549.2,361.55 L549.7,361.72 L550.2,361.88 L550.7,362.04 L551.2,362.21 L551.7,362.37 L552.2,362.54 L552.7,362.7 L553.2,362.88 L553.7,363.07 L554.2,363.25 L554.7,363.44 L555.2,363.63 L555.7,363.82 L556.2,364.01 L556.7,364.2 L557.2,364.39 L557.7,364.58 L558.2,364.77 L558.7,364.96 L559.2,365.15 L559.7,365.35 L560.2,365.58 L560.7,365.82 L561.2,366.05 L561.7,366.29 L562.2,366.52 L562.7,366.76 L563.2,366.99 L563.7,367.23 L564.2,367.46 L564.7,367.7 L565.2,368.03 L565.7,368.37 L566.2,368.7 L566.7,369.03 L567.2,369.37 L567.7,369.7 L568.2,370.03 L568.7,370 L569.2,369.88 L569.7,369.76 L570.2,369.64 L570.7,369.52 L571.2,369.4 L571.7,369.61 L572.2,369.82 L572.7,370.03 L573.2,370.25 L573.7,370.46 L574.2,370.67 L574.7,370.88 L575.2,371.09 L575.7,371.3 L576.2,371.52 L576.7,371.57 L577.2,371.53 L577.7,371.49 L578.2,371.45 L578.7,371.41 L579.2,371.37 L579.7,371.32 L580.2,371.29 L580.7,371.28 L581.2,371.26 L581.7,371.24 L582.2,371.22 L582.7,371.21 L583.2,371.46 L583.7,371.89 L584.2,372.32 L584.7,372.75 L585.2,373.18 L585.7,373.61 L586.2,374.04 L586.7,374.38 L587.2,374.57 L587.7,374.76 L588.2,374.96 L588.7,375.15 L589.2,375.35 L589.7,375.58 L590.2,375.97 L590.7,376.36 L591.2,376.74 L591.7,377.13 L592.2,377.52 L592.7,377.91 L593.2,378.3 L593.7,378.69 L594.2,379.08 L594.7,379.47 L595.2,379.69 L595.7,379.66 L596.2,379.63 L596.7,379.61 L597.2,379.58 L597.7,379.55 L598.2,379.53 L598.7,379.5 L599.2,379.47 L599.7,379.44 L600.2,379.42 L600.7,379.55 L601.2,379.94 L601.7,380.32 L602.2,380.7 L602.7,381.09 L603.2,381.47 L603.7,381.85 L604.2,382.24 L604.7,382.62 L605.2,383 L605.7,383.39 L606.2,383.77 L606.7,384.15 L607.2,384.53 L607.7,384.91 L608.2,385.29 L608.7,385.67 L609.2,386.06 L609.7,386.44 L610.2,386.82 L610.7,387.2 L611.2,387.58 L611.7,387.96 L612.2,388.34 L612.7,388.72 L613.2,389.1 L613.7,389.06 L614.2,389.02 L614.7,388.97 L615.2,388.93 L615.7,388.81 L616.2,388.35 L616.7,387.89 L617.2,387.43 L617.7,386.97 L618.2,386.51 L618.7,386.05 L619.2,385.59 L619.7,385.74 L620.2,386.05 L620.7,386.36 L621.2,386.66 L621.7,386.97 L622.2,387.27 L622.7,387.58 L623.2,388.08 L623.7,388.7 L624.2,389.33 L624.7,389.96 L625.2,390.59 L625.7,391.21 L626.2,391.84 L626.7,392.47 L627.2,393.09 L627.7,393.72 L628.2,394.35 L628.7,394.88 L629.2,395.35 L629.7,395.81 L630.2,396.28 L630.7,396.75 L631.2,397.21 L631.7,397.84 L632.2,398.57 L632.7,399.3 L633.2,400.04 L633.7,400.77 L634.2,401.5 L634.7,402.23 L635.2,402.97 L635.7,403.7 L636.2,404.53 L636.7,405.37 L637.2,406.2 L637.7,407.03 L638.2,407.87 L638.7,408.7 L639.2,409.53 L639.7,410.37 L640.2,411.64 L640.7,413.2 L641.2,414.76 L641.7,416.33 L642.2,417.89 L642.7,419.37 L643.2,420.83 L643.2,422.1 L642.7,422.1 L642.2,422.1 L641.7,422.1 L641.2,422.1 L640.7,422.1 L640.2,422.1 L639.7,422.1 L639.2,422.1 L638.7,422.1 L638.2,422.1 L637.7,422.1 L637.2,422.1 L636.7,422.1 L636.2,422.1 L635.7,422.1 L635.2,422.1 L634.7,422.1 L634.2,422.1 L633.7,422.1 L633.2,422.1 L632.7,422.1 L632.2,422.1 L631.7,422.1 L631.2,422.1 L630.7,422.1 L630.2,422.1 L629.7,422.1 L629.2,422.1 L628.7,422.1 L628.2,422.1 L627.7,422.1 L627.2,422.1 L626.7,422.1 L626.2,422.1 L625.7,422.1 L625.2,422.1 L624.7,422.1 L624.2,422.1 L623.7,422.1 L623.2,422.1 L622.7,422.1 L622.2,422.1 L621.7,422.1 L621.2,422.1 L620.7,422.1 L620.2,422.1 L619.7,422.1 L619.2,422.1 L618.7,422.1 L618.2,422.1 L617.7,422.1 L617.2,422.1 L616.7,422.1 L616.2,422.1 L615.7,422.1 L615.2,422.1 L614.7,422.1 L614.2,422.1 L613.7,422.1 L613.2,422.1 L612.7,422.1 L612.2,422.1 L611.7,422.1 L611.2,422.1 L610.7,422.1 L610.2,422.1 L609.7,422.1 L609.2,422.1 L608.7,422.1 L608.2,422.1 L607.7,422.1 L607.2,422.1 L606.7,422.1 L606.2,422.1 L605.7,422.1 L605.2,422.1 L604.7,422.1 L604.2,422.1 L603.7,422.1 L603.2,422.1 L602.7,422.1 L602.2,422.1 L601.7,422.1 L601.2,422.1 L600.7,422.1 L600.2,422.1 L599.7,422.1 L599.2,422.1 L598.7,422.1 L598.2,422.1 L597.7,422.1 L597.2,422.1 L596.7,422.1 L596.2,422.1 L595.7,422.1 L595.2,422.1 L594.7,422.1 L594.2,422.1 L593.7,422.1 L593.2,421.52 L592.7,420.86 L592.2,420.2 L591.7,419.54 L591.2,418.9 L590.7,418.26 L590.2,417.63 L589.7,417.01 L589.2,416.4 L588.7,415.79 L588.2,415.19 L587.7,414.59 L587.2,414 L586.7,413.42 L586.2,412.84 L585.7,412.27 L585.2,411.71 L584.7,411.15 L584.2,410.6 L583.7,410.05 L583.2,409.51 L582.7,408.97 L582.2,408.44 L581.7,407.92 L581.2,407.4 L580.7,406.89 L580.2,406.38 L579.7,405.88 L579.2,405.38 L578.7,404.89 L578.2,404.4 L577.7,403.91 L577.2,403.43 L576.7,402.96 L576.2,402.49 L575.7,402.03 L575.2,401.57 L574.7,401.11 L574.2,400.66 L573.7,400.21 L573.2,399.77 L572.7,399.33 L572.2,398.89 L571.7,398.46 L571.2,398.04 L570.7,397.61 L570.2,397.19 L569.7,396.78 L569.2,396.37 L568.7,395.96 L568.2,395.56 L567.7,395.16 L567.2,394.76 L566.7,394.37 L566.2,393.98 L565.7,393.59 L565.2,393.21 L564.7,392.83 L564.2,392.45 L563.7,392.08 L563.2,391.71 L562.7,391.34 L562.2,390.98 L561.7,390.62 L561.2,390.26 L560.7,389.91 L560.2,389.55 L559.7,389.21 L559.2,388.86 L558.7,388.52 L558.2,388.18 L557.7,387.84 L557.2,387.51 L556.7,387.18 L556.2,386.85 L555.7,386.52 L555.2,386.2 L554.7,385.88 L554.2,385.56 L553.7,385.24 L553.2,384.93 L552.7,384.62 L552.2,384.31 L551.7,384.01 L551.2,383.7 L550.7,383.4 L550.2,383.1 L549.7,382.81 L549.2,382.51 L548.7,382.22 L548.2,381.93 L547.7,381.64 L547.2,381.36 L546.7,381.07 L546.2,380.79 L545.7,380.51 L545.2,380.24 L544.7,379.96 L544.2,379.69 L543.7,379.42 L543.2,379.15 L542.7,378.88 L542.2,378.62 L541.7,378.36 L541.2,378.1 L540.7,377.84 L540.2,377.58 L539.7,377.32 L539.2,377.07 L538.7,376.82 L538.2,376.57 L537.7,376.32 L537.2,376.07 L536.7,375.83 L536.2,375.59 L535.7,375.34 L535.2,375.11 L534.7,374.87 L534.2,374.63 L533.7,374.4 L533.2,374.16 L532.7,373.93 L532.2,373.7 L531.7,373.47 L531.2,373.25 L530.7,373.02 L530.2,372.8 L529.7,372.58 L529.2,372.35 L528.7,372.14 L528.2,371.92 L527.7,371.7 L527.2,371.49 L526.7,371.27 L526.2,371.06 L525.7,370.85 L525.2,370.64 L524.7,370.43 L524.2,370.23 L523.7,370.02 L523.2,369.82 L522.7,369.61 L522.2,369.41 L521.7,369.21 L521.2,369.01 L520.7,368.82 L520.2,368.62 L519.7,368.42 L519.2,368.23 L518.7,368.04 L518.2,367.85 L517.7,367.66 L517.2,367.47 L516.7,367.28 L516.2,367.09 L515.7,366.91 L515.2,366.72 L514.7,366.54 L514.2,366.36 L513.7,366.17 L513.2,365.99 L512.7,365.81 L512.2,365.64 L511.7,365.46 L511.2,365.28 L510.7,365.11 L510.2,364.94 L509.7,364.76 L509.2,364.59 L508.7,364.42 L508.2,364.25 L507.7,364.08 L507.2,363.91 L506.7,363.75 L506.2,363.58 L505.7,363.42 L505.2,363.25 L504.7,363.09 L504.2,362.93 L503.7,362.77 L503.2,362.61 L502.7,362.45 L502.2,362.29 L501.7,362.13 L501.2,361.97 L500.7,361.82 L500.2,361.66 L499.7,361.51 L499.2,361.36 L498.7,361.2 L498.2,361.05 L497.7,360.9 L497.2,360.75 L496.7,360.6 L496.2,360.46 L495.7,360.31 L495.2,360.16 L494.7,360.02 L494.2,359.87 L493.7,359.73 L493.2,359.58 L492.7,359.44 L492.2,359.3 L491.7,359.16 L491.2,359.02 L490.7,358.88 L490.2,358.74 L489.7,358.6 L489.2,358.46 L488.7,358.33 L488.2,358.19 L487.7,358.06 L487.2,357.92 L486.7,357.79 L486.2,357.65 L485.7,357.52 L485.2,357.39 L484.7,357.26 L484.2,357.13 L483.7,357 L483.2,356.87 L482.7,356.74 L482.2,356.61 L481.7,356.49 L481.2,356.36 L480.7,356.23 L480.2,356.11 L479.7,355.98 L479.2,355.86 L478.7,355.74 L478.2,355.61 L477.7,355.49 L477.2,355.37 L476.7,355.25 L476.2,355.13 L475.7,355.01 L475.2,354.89 L474.7,354.77 L474.2,354.65 L473.7,354.54 L473.2,354.42 L472.7,354.3 L472.2,354.19 L471.7,354.07 L471.2,353.96 L470.7,353.84 L470.2,353.73 L469.7,353.62 L469.2,353.5 L468.7,353.39 L468.2,353.28 L467.7,353.17 L467.2,353.06 L466.7,352.95 L466.2,352.84 L465.7,352.73 L465.2,352.62 L464.7,352.52 L464.2,352.41 L463.7,352.3 L463.2,352.2 L462.7,352.09 L462.2,351.98 L461.7,351.88 L461.2,351.78 L460.7,351.67 L460.2,351.57 L459.7,351.47 L459.2,351.36 L458.7,351.26 L458.2,351.16 L457.7,351.06 L457.2,350.96 L456.7,350.86 L456.2,350.76 L455.7,350.66 L455.2,350.56 L454.7,350.46 L454.2,350.36 L453.7,350.27 L453.2,350.17 L452.7,350.07 L452.2,349.98 L451.7,349.88 L451.2,349.79 L450.7,349.69 L450.2,349.6 L449.7,349.5 L449.2,349.41 L448.7,349.31 L448.2,349.22 L447.7,349.13 L447.2,349.04 L446.7,348.95 L446.2,348.85 L445.7,348.76 L445.2,348.67 L444.7,348.58 L444.2,348.49 L443.7,348.4 L443.2,348.31 L442.7,348.23 L442.2,348.14 L441.7,348.05 L441.2,347.96 L440.7,347.88 L440.2,347.79 L439.7,347.7 L439.2,347.62 L438.7,347.53 L438.2,347.45 L437.7,347.36 L437.2,347.28 L436.7,347.19 L436.2,347.11 L435.7,347.02 L435.2,346.94 L434.7,346.86 L434.2,346.78 L433.7,346.69 L433.2,346.61 L432.7,346.53 L432.2,346.45 L431.7,346.37 L431.2,346.29 L430.7,346.21 L430.2,346.13 L429.7,346.05 L429.2,345.97 L428.7,345.89 L428.2,345.81 L427.7,345.73 L427.2,345.65 L426.7,345.58 L426.2,345.5 L425.7,345.42 L425.2,345.34 L424.7,345.27 L424.2,345.19 L423.7,345.12 L423.2,345.04 L422.7,344.97 L422.2,344.89 L421.7,344.82 L421.2,344.74 L420.7,344.67 L420.2,344.59 L419.7,344.52 L419.2,344.45 L418.7,344.37 L418.2,344.3 L417.7,344.23 L417.2,344.16 L416.7,344.08 L416.2,344.01 L415.7,343.94 L415.2,343.87 L414.7,343.8 L414.2,343.73 L413.7,343.66 L413.2,343.59 L412.7,343.52 L412.2,343.45 L411.7,343.38 L411.2,343.31 L410.7,343.24 L410.2,343.17 L409.7,343.11 L409.2,343.04 L408.7,342.97 L408.2,342.9 L407.7,342.84 L407.2,342.77 L406.7,342.7 L406.2,342.64 L405.7,342.57 L405.2,342.5 L404.7,342.44 L404.2,342.37 L403.7,342.31 L403.2,342.24 L402.7,342.18 L402.2,342.11 L401.7,342.05 L401.2,341.98 L400.7,341.92 L400.2,341.86 L399.7,341.79 L399.2,341.73 L398.7,341.67 L398.2,341.6 L397.7,341.54 L397.2,341.48 L396.7,341.42 L396.2,341.36 L395.7,341.29 L395.2,341.23 L394.7,341.17 L394.2,341.11 L393.7,341.05 L393.2,340.99 L392.7,340.93 L392.2,340.87 L391.7,340.81 L391.2,340.75 L390.7,340.69 L390.2,340.63 L389.7,340.57 L389.2,340.51 L388.7,340.45 L388.2,340.39 L387.7,340.34 L387.2,340.28 L386.7,340.22 L386.2,340.16 L385.7,340.11 L385.2,340.05 L384.7,339.99 L384.2,339.93 L383.7,339.88 L383.2,339.82 L382.7,339.76 L382.2,339.71 L381.7,339.65 L381.2,339.6 L380.7,339.54 L380.2,339.49 Z" fill="#d7573b" fill-opacity="0.25" stroke="none"/>
<line x1="380.2" y1="422.1" x2="678.6" y2="422.1" stroke="#4a4a4a" stroke-width="1.1" stroke-dasharray="2.35 2.35"/>
<clipPath id="clipD"><rect x="380.2" y="321.7" width="298.4" height="232.7"/></clipPath>
<g clip-path="url(#clipD)">
<polyline points="380.2,339.49 381.69,339.65 383.19,339.82 384.68,339.99 386.18,340.16 387.67,340.33 389.16,340.51 390.66,340.68 392.15,340.86 393.65,341.04 395.14,341.22 396.63,341.41 398.13,341.6 399.62,341.78 401.12,341.97 402.61,342.17 404.1,342.36 405.6,342.56 407.09,342.75 408.59,342.95 410.08,343.16 411.57,343.36 413.07,343.57 414.56,343.78 416.06,343.99 417.55,344.21 419.04,344.42 420.54,344.64 422.03,344.87 423.53,345.09 425.02,345.32 426.51,345.55 428.01,345.78 429.5,346.02 431,346.25 432.49,346.5 433.98,346.74 435.48,346.99 436.97,347.24 438.47,347.49 439.96,347.75 441.45,348.01 442.95,348.27 444.44,348.54 445.94,348.81 447.43,349.08 448.92,349.36 450.42,349.64 451.91,349.92 453.41,350.21 454.9,350.5 456.39,350.8 457.89,351.1 459.38,351.4 460.88,351.71 462.37,352.02 463.86,352.34 465.36,352.66 466.85,352.98 468.35,353.31 469.84,353.65 471.33,353.99 472.83,354.33 474.32,354.68 475.82,355.04 477.31,355.4 478.8,355.76 480.3,356.13 481.79,356.51 483.29,356.89 484.78,357.28 486.27,357.67 487.77,358.07 489.26,358.48 490.76,358.89 492.25,359.31 493.74,359.74 495.24,360.17 496.73,360.61 498.23,361.06 499.72,361.52 501.21,361.98 502.71,362.45 504.2,362.93 505.7,363.42 507.19,363.91 508.68,364.41 510.18,364.93 511.67,365.45 513.17,365.98 514.66,366.52 516.15,367.07 517.65,367.64 519.14,368.21 520.64,368.79 522.13,369.38 523.62,369.99 525.12,370.61 526.61,371.24 528.11,371.88 529.6,372.53 531.09,373.2 532.59,373.88 534.08,374.58 535.58,375.29 537.07,376.01 538.56,376.75 540.06,377.51 541.55,378.28 543.05,379.07 544.54,379.87 546.03,380.7 547.53,381.54 549.02,382.41 550.52,383.29 552.01,384.19 553.5,385.12 555,386.07 556.49,387.04 557.99,388.03 559.48,389.05 560.97,390.1 562.47,391.17 563.96,392.27 565.46,393.4 566.95,394.56 568.44,395.75 569.94,396.98 571.43,398.23 572.93,399.53 574.42,400.86 575.91,402.22 577.41,403.63 578.9,405.08 580.4,406.58 581.89,408.12 583.38,409.71 584.88,411.35 586.37,413.04 587.87,414.79 589.36,416.59 590.85,418.46 592.35,420.39 593.84,422.39 595.34,424.46 596.83,426.61 598.32,428.83 599.82,431.14 601.31,433.54 602.81,436.03 604.3,438.62 605.79,441.32 607.29,444.13 608.78,447.06 610.28,450.12 611.77,453.31 613.26,456.65 614.76,460.14 616.25,463.8 617.75,467.64 619.24,471.67 620.73,475.91 622.23,480.36 623.72,485.07 625.22,490.03 626.71,495.27 628.2,500.83 629.7,506.72 631.19,512.98 632.69,519.64 634.18,526.74 635.67,534.34 637.17,542.48 638.66,551.22 640.16,560.64" fill="none" stroke="#111" stroke-width="1.3" />
<polyline points="380.2,339.4 400,341.3 420,343.3 430,344.5 440.2,345.4 450.4,347.1 460.7,348.3 470.9,349.8 481.1,351.1 491.3,352.4 500,353.6 506.3,353.6 515,354.5 519.4,356.3 522.3,355.5 529.6,356 534,356.7 538.4,358.5 545.7,360.4 553,362.8 559.6,365.3 564.7,367.7 568.3,370.1 571.2,369.4 576.4,371.6 580,371.3 582.9,371.2 586.5,374.3 589.6,375.5 595,379.7 600.5,379.4 606.5,384 613.2,389.1 615.6,388.9 619.3,385.5 622.9,387.7 628.4,394.6 631.4,397.4 635.7,403.7 639.9,410.7 642.3,418.2 644.8,425.5 647,430 650,436 652.4,444 654.4,457.9 657.5,459.5 660.3,475.4 663.5,462.3 666.9,462.3 669.5,480.8 672.9,536.6 675.9,497.8" fill="none" stroke="#3b7cb8" stroke-width="1.2" />
</g>
<line x1="380.2" y1="321.7" x2="380.2" y2="555" stroke="#111" stroke-width="1.4" />
<line x1="379.6" y1="554.4" x2="678.6" y2="554.4" stroke="#111" stroke-width="1.4" />
<line x1="380.2" y1="554.4" x2="380.2" y2="557.4" stroke="#111" stroke-width="1" />
<text x="380.2" y="563.9" font-family='"Liberation Serif", serif' font-size="7.6" text-anchor="middle" fill="#111" stroke="#111" stroke-width="0.22" >0.0</text>
<line x1="439.96" y1="554.4" x2="439.96" y2="557.4" stroke="#111" stroke-width="1" />
<text x="439.96" y="563.9" font-family='"Liberation Serif", serif' font-size="7.6" text-anchor="middle" fill="#111" stroke="#111" stroke-width="0.22" >0.2</text>
<line x1="499.72" y1="554.4" x2="499.72" y2="557.4" stroke="#111" stroke-width="1" />
<text x="499.72" y="563.9" font-family='"Liberation Serif", serif' font-size="7.6" text-anchor="middle" fill="#111" stroke="#111" stroke-width="0.22" >0.4</text>
<line x1="559.48" y1="554.4" x2="559.48" y2="557.4" stroke="#111" stroke-width="1" />
<text x="559.48" y="563.9" font-family='"Liberation Serif", serif' font-size="7.6" text-anchor="middle" fill="#111" stroke="#111" stroke-width="0.22" >0.6</text>
<line x1="619.24" y1="554.4" x2="619.24" y2="557.4" stroke="#111" stroke-width="1" />
<text x="619.24" y="563.9" font-family='"Liberation Serif", serif' font-size="7.6" text-anchor="middle" fill="#111" stroke="#111" stroke-width="0.22" >0.8</text>
<line x1="679" y1="554.4" x2="679" y2="557.4" stroke="#111" stroke-width="1" />
<text x="679" y="563.9" font-family='"Liberation Serif", serif' font-size="7.6" text-anchor="middle" fill="#111" stroke="#111" stroke-width="0.22" >1.0</text>
<line x1="377" y1="335.36" x2="380.2" y2="335.36" stroke="#111" stroke-width="1" />
<text x="375.9" y="337.96" font-family='"Liberation Serif", serif' font-size="7.6" text-anchor="end" fill="#111" stroke="#111" stroke-width="0.22" >0.75</text>
<line x1="377" y1="364.27" x2="380.2" y2="364.27" stroke="#111" stroke-width="1" />
<text x="375.9" y="366.87" font-family='"Liberation Serif", serif' font-size="7.6" text-anchor="end" fill="#111" stroke="#111" stroke-width="0.22" >0.50</text>
<line x1="377" y1="393.19" x2="380.2" y2="393.19" stroke="#111" stroke-width="1" />
<text x="375.9" y="395.79" font-family='"Liberation Serif", serif' font-size="7.6" text-anchor="end" fill="#111" stroke="#111" stroke-width="0.22" >0.25</text>
<line x1="377" y1="422.1" x2="380.2" y2="422.1" stroke="#111" stroke-width="1" />
<text x="375.9" y="424.7" font-family='"Liberation Serif", serif' font-size="7.6" text-anchor="end" fill="#111" stroke="#111" stroke-width="0.22" >0.00</text>
<line x1="377" y1="451.02" x2="380.2" y2="451.02" stroke="#111" stroke-width="1" />
<text x="375.9" y="453.62" font-family='"Liberation Serif", serif' font-size="7.6" text-anchor="end" fill="#111" stroke="#111" stroke-width="0.22" >-0.25</text>
<line x1="377" y1="479.93" x2="380.2" y2="479.93" stroke="#111" stroke-width="1" />
<text x="375.9" y="482.53" font-family='"Liberation Serif", serif' font-size="7.6" text-anchor="end" fill="#111" stroke="#111" stroke-width="0.22" >-0.50</text>
<line x1="377" y1="508.85" x2="380.2" y2="508.85" stroke="#111" stroke-width="1" />
<text x="375.9" y="511.45" font-family='"Liberation Serif", serif' font-size="7.6" text-anchor="end" fill="#111" stroke="#111" stroke-width="0.22" >-0.75</text>
<line x1="377" y1="537.76" x2="380.2" y2="537.76" stroke="#111" stroke-width="1" />
<text x="375.9" y="540.36" font-family='"Liberation Serif", serif' font-size="7.6" text-anchor="end" fill="#111" stroke="#111" stroke-width="0.22" >-1.00</text>
<text x="529.5" y="573.4" font-family='"Liberation Serif", serif' font-size="8.05" text-anchor="middle" fill="#111" stroke="#111" stroke-width="0.22" >Threshold Probability</text>
<text x="0" y="0" font-family='"Liberation Serif", serif' font-size="8.4" text-anchor="middle" fill="#111" stroke="#111" stroke-width="0.22" transform="translate(356.4,438.3) rotate(-90)">Net Benefit</text>
<rect x="611.8" y="325.8" width="63" height="36.4" fill="#fff" fill-opacity="0.9" stroke="#dcdcdc" stroke-width="0.9" rx="2"/>
<line x1="614.1" y1="332.1" x2="630.9" y2="332.1" stroke="#7fb0d8" stroke-width="1.5" />
<line x1="614.1" y1="343.2" x2="630.9" y2="343.2" stroke="#111" stroke-width="1.3" />
<line x1="614.1" y1="354.6" x2="630.9" y2="354.6" stroke="#333" stroke-width="1.1" stroke-dasharray="2.2 2.2"/>
<text x="637.7" y="334.8" font-family='"Liberation Serif", serif' font-size="8.2" text-anchor="start" fill="#111" stroke="#111" stroke-width="0.22" >Model</text>
<text x="637.7" y="346.3" font-family='"Liberation Serif", serif' font-size="8.2" text-anchor="start" fill="#111" stroke="#111" stroke-width="0.22" >Treat all</text>
<text x="637.7" y="357.6" font-family='"Liberation Serif", serif' font-size="8.2" text-anchor="start" fill="#111" stroke="#111" stroke-width="0.22" >Treat none</text>
</svg>
</body></html>
